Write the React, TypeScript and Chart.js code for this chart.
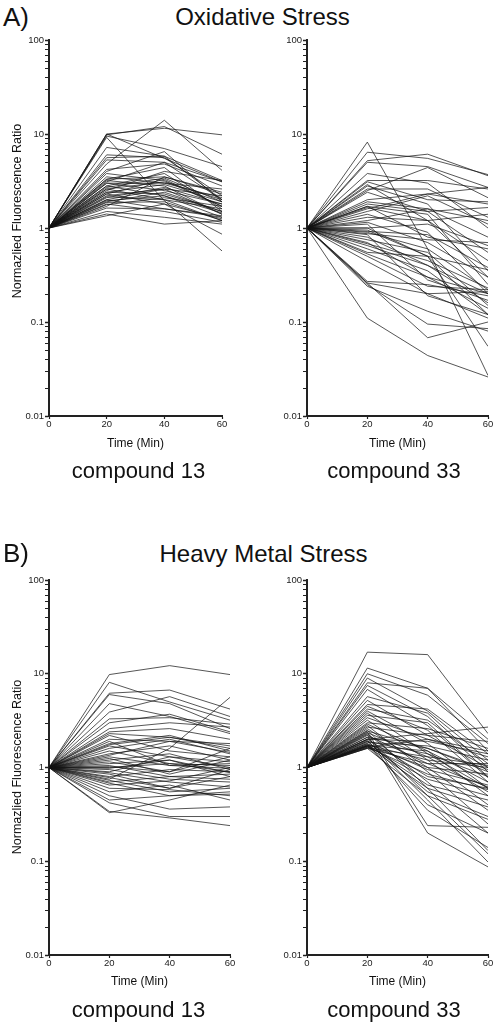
import React, { useEffect, useRef } from "react";
import { Chart, registerables } from "chart.js";
Chart.register(...registerables);

// ---- data ----
const times = [0, 20, 40, 60];
const startRatio = 1; // every trace is normalized to 1 at t = 0
const yTickValues = [0.01, 0.1, 1, 10, 100];
const xTickValues = [0, 20, 40, 60];
const yTitle = "Normazlied Fluorescence Ratio";
const xTitle = "Time (Min)";

// values at 20, 40, 60 min
const oxidativeC13: number[][] = [
  [10, 11.5, 9.8], [9.8, 12, 6.1], [9.5, 7, 4.5], [9.2, 1.95, 0.57], [10, 5.5, 3.1],
  [7.2, 5.8, 3.2], [6.0, 5.6, 2.2], [5.6, 5.8, 2.0], [5.3, 5.0, 3.1], [4.8, 14, 4.1],
  [4.0, 6.5, 1.9], [3.8, 3.2, 1.7], [3.3, 3.5, 2.3], [3.3, 4.4, 1.5], [3.2, 2.8, 1.4],
  [3.0, 3.0, 2.1], [3.0, 2.5, 1.8], [2.8, 3.8, 1.6], [2.8, 2.2, 1.3], [2.6, 3.1, 2.0],
  [2.6, 2.0, 1.2], [2.4, 2.9, 1.9], [2.4, 2.3, 1.5], [2.3, 3.3, 1.7], [2.3, 1.8, 1.25],
  [2.2, 2.6, 1.4], [2.15, 2.0, 1.6], [2.0, 2.6, 2.2], [2.0, 1.6, 1.3], [1.9, 2.4, 1.5],
  [1.87, 1.9, 1.2], [1.8, 1.5, 1.15], [1.77, 2.1, 1.7], [1.7, 3.5, 2.4], [1.63, 1.6, 1.35],
  [1.5, 1.3, 1.1], [1.41, 1.1, 1.2], [1.35, 1.8, 0.86], [2.5, 4.0, 3.2], [3.5, 3.0, 2.6],
  [2.1, 2.7, 1.8], [4.2, 4.8, 2.8], [2.7, 3.4, 1.9], [1.95, 2.2, 1.45], [3.1, 5.0, 2.0],
];

const oxidativeC33: number[][] = [
  [8.2, 0.6, 0.027], [6.4, 5.5, 3.7], [5.2, 6.1, 3.6], [5.0, 4.5, 2.7], [3.8, 3.0, 1.0],
  [3.2, 3.2, 2.6], [3.1, 2.0, 1.9], [2.8, 1.8, 0.35], [2.6, 2.6, 1.3], [2.5, 4.4, 2.1],
  [2.4, 1.5, 0.55], [2.0, 2.3, 1.8], [1.9, 1.6, 0.8], [1.8, 1.5, 1.65], [1.7, 1.4, 0.25],
  [1.65, 1.2, 1.4], [1.6, 2.3, 2.7], [1.4, 0.9, 0.2], [1.3, 1.2, 0.45], [1.2, 1.6, 1.2],
  [1.15, 0.7, 0.3], [1.0, 1.1, 0.65], [1.0, 0.5, 0.12], [0.92, 0.85, 0.38], [0.9, 0.6, 0.22],
  [0.87, 0.75, 0.7], [0.8, 0.4, 0.2], [0.75, 0.55, 0.15], [0.7, 0.3, 0.2], [0.68, 0.45, 0.23],
  [0.6, 0.35, 0.12], [0.55, 0.5, 0.36], [0.53, 0.3, 0.14], [0.5, 0.24, 0.22], [0.44, 0.2, 0.11],
  [0.26, 0.2, 0.21], [0.25, 0.095, 0.085], [0.24, 0.13, 0.08], [0.26, 0.068, 0.1], [0.11, 0.044, 0.026],
  [0.27, 0.25, 0.19], [1.7, 0.8, 0.6], [2.9, 1.2, 0.3], [1.5, 2.2, 1.1], [0.95, 0.5, 0.055],
  [1.1, 0.28, 0.17], [0.85, 0.19, 0.12], [0.65, 0.4, 0.16],
];

const metalC13: number[][] = [
  [9.8, 12.2, 9.8], [8.1, 5.0, 3.2], [6.2, 6.7, 4.2], [6.0, 4.8, 2.6], [4.8, 3.5, 2.3],
  [3.9, 5.7, 3.5], [3.3, 3.4, 2.9], [3.0, 3.7, 2.4], [2.4, 2.6, 2.0], [2.3, 2.1, 1.6],
  [2.2, 1.5, 1.3], [1.8, 2.2, 1.5], [1.75, 2.1, 1.7], [1.7, 1.3, 1.0], [1.6, 2.0, 1.4],
  [1.5, 1.1, 0.9], [1.4, 1.7, 1.2], [1.3, 1.05, 1.1], [1.2, 1.4, 0.95], [1.15, 0.9, 1.3],
  [1.1, 1.2, 0.8], [1.05, 0.8, 0.85], [1.0, 1.1, 1.05], [0.95, 0.75, 0.7], [0.9, 1.3, 1.15],
  [0.85, 0.6, 0.95], [0.8, 0.95, 0.9], [0.75, 1.6, 5.6], [0.73, 0.55, 0.6], [0.7, 0.8, 0.75],
  [0.68, 0.5, 0.55], [0.65, 0.72, 1.0], [0.6, 0.58, 0.5], [0.55, 0.65, 0.45], [0.5, 0.36, 0.38],
  [0.45, 0.5, 0.52], [0.42, 0.3, 0.3], [0.34, 0.29, 0.24], [0.33, 0.45, 0.65], [2.0, 1.9, 1.45],
  [1.9, 1.05, 0.98], [1.25, 0.85, 1.2], [0.98, 1.2, 0.88], [0.88, 0.7, 0.62], [2.6, 3.0, 2.7],
  [1.35, 1.9, 1.8], [0.78, 0.6, 0.8], [1.02, 0.9, 1.6],
];

const metalC33: number[][] = [
  [17, 16, 2.3], [11.5, 7.0, 2.0], [10, 5.9, 1.8], [9, 4.0, 1.2], [8, 7.0, 1.5],
  [7.5, 3.5, 0.9], [2.0, 2.3, 2.7], [5.7, 3.8, 1.0], [4.7, 4.2, 1.4], [4.5, 2.5, 0.7],
  [4.2, 3.2, 1.1], [4.0, 1.8, 0.6], [3.6, 3.0, 0.8], [3.4, 2.0, 1.3], [3.2, 1.2, 0.4],
  [3.0, 2.6, 1.6], [2.9, 1.5, 0.5], [2.8, 0.9, 0.25], [2.7, 2.2, 1.9], [2.6, 1.0, 0.35],
  [2.5, 0.6, 0.13], [2.45, 1.6, 0.9], [2.4, 0.24, 0.23], [2.35, 1.3, 0.55], [2.3, 0.7, 0.2],
  [2.25, 0.2, 0.087], [2.2, 1.1, 1.1], [2.1, 0.5, 0.12], [2.0, 1.9, 1.4], [2.0, 0.8, 0.6],
  [1.95, 0.45, 0.098], [1.9, 1.4, 0.8], [1.9, 0.55, 0.3], [1.85, 1.7, 1.2], [1.8, 0.95, 0.65],
  [1.8, 0.35, 0.14], [1.75, 1.2, 1.0], [1.75, 0.65, 0.45], [1.72, 1.5, 0.7], [1.7, 0.75, 0.5],
  [1.7, 1.0, 0.85], [1.68, 0.6, 0.38], [1.65, 2.0, 1.5], [1.65, 0.85, 0.58], [1.6, 1.1, 0.62],
  [1.6, 0.5, 0.28], [1.62, 1.3, 1.05], [1.7, 0.4, 0.2], [2.1, 1.6, 0.95], [3.8, 1.4, 0.6],
  [5.2, 2.2, 1.0], [6.8, 2.8, 0.78],
];

// ---- styling ----
const FONT = '"Liberation Sans", Arial, Helvetica, sans-serif';
const INK = "#222";

const minorTicks = {
  id: "minorTicks",
  afterDraw(chart: any) {
    const ys = chart.scales.y;
    const ctx = chart.ctx;
    const x0 = chart.chartArea.left - 1;
    ctx.save();
    ctx.strokeStyle = INK;
    ctx.lineWidth = 1;
    for (let i = 0; i < yTickValues.length - 1; i++) {
      for (let k = 2; k <= 9; k++) {
        const py = Math.round(ys.getPixelForValue(yTickValues[i] * k)) + 0.5;
        ctx.beginPath();
        ctx.moveTo(x0 - 3, py);
        ctx.lineTo(x0, py);
        ctx.stroke();
      }
    }
    ctx.restore();
  },
};

type PanelProps = {
  series: number[][];
  left: number;
  top: number;
  width: number;
  height: number;
  plotLeft: number;
  plotRight: number;
  plotTop: number;
  plotBottom: number;
};

function Panel(p: PanelProps) {
  const ref = useRef<HTMLCanvasElement>(null);
  useEffect(() => {
    const yW = p.plotLeft - p.left;
    const xH = p.top + p.height - p.plotBottom;
    const chart = new Chart(ref.current as HTMLCanvasElement, {
      type: "line",
      data: {
        datasets: p.series.map((row) => ({
          data: times.map((t, i) => ({ x: t, y: i === 0 ? startRatio : row[i - 1] })),
          borderColor: "rgba(20,20,20,0.9)",
          borderWidth: 0.8,
          pointRadius: 0,
          fill: false,
          tension: 0,
        })),
      },
      options: {
        responsive: false,
        animation: false,
        devicePixelRatio: 1,
        layout: {
          padding: {
            left: 0,
            top: p.plotTop - p.top,
            right: p.left + p.width - p.plotRight,
            bottom: 0,
          },
        },
        plugins: {
          legend: { display: false },
          tooltip: { enabled: false },
          title: { display: false },
        },
        scales: {
          x: {
            type: "linear",
            min: 0,
            max: 60,
            afterBuildTicks: (s: any) => {
              s.ticks = xTickValues.map((v) => ({ value: v }));
            },
            afterFit: (s: any) => {
              s.height = xH;
            },
            grid: {
              display: true,
              drawOnChartArea: false,
              drawTicks: true,
              tickLength: 3,
              tickWidth: 1.2,
              tickColor: INK,
            },
            border: { display: true, color: INK, width: 2 },
            ticks: {
              color: INK,
              font: { family: FONT, size: 9.5 },
              padding: 0,
              maxRotation: 0,
              autoSkip: false,
            },
          },
          y: {
            type: "logarithmic",
            min: 0.01,
            max: 100,
            afterBuildTicks: (s: any) => {
              s.ticks = yTickValues.map((v) => ({ value: v }));
            },
            afterFit: (s: any) => {
              s.width = yW;
            },
            grid: {
              display: true,
              drawOnChartArea: false,
              drawTicks: true,
              tickLength: 4,
              tickWidth: 1.5,
              tickColor: INK,
            },
            border: { display: true, color: INK, width: 2 },
            ticks: {
              color: INK,
              font: { family: FONT, size: 9.5 },
              padding: 1,
              autoSkip: false,
              callback: (v: any) => String(v),
            },
          },
        },
      } as any,
      plugins: [minorTicks],
    });
    return () => chart.destroy();
  }, []);
  return (
    <canvas
      ref={ref}
      width={p.width}
      height={p.height}
      style={{ position: "absolute", left: p.left, top: p.top, width: p.width, height: p.height }}
    />
  );
}

function Txt(props: { text: string; cx?: number; left?: number; baseline: number; size: number }) {
  const top = props.baseline - 0.8465 * props.size;
  const style: React.CSSProperties = {
    position: "absolute",
    top,
    fontFamily: FONT,
    fontSize: props.size,
    lineHeight: `${props.size}px`,
    color: "#111",
    whiteSpace: "nowrap",
  };
  if (props.cx !== undefined) {
    style.left = props.cx - 200;
    style.width = 400;
    style.textAlign = "center";
  } else {
    style.left = props.left;
  }
  return <div style={style}>{props.text}</div>;
}

function YTitle(props: { cx: number; cy: number }) {
  return (
    <div
      style={{
        position: "absolute",
        left: props.cx - 110,
        top: props.cy - 7,
        width: 220,
        height: 14,
        lineHeight: "14px",
        textAlign: "center",
        fontFamily: FONT,
        fontSize: 12.5,
        color: "#111",
        transform: "rotate(-90deg)",
        whiteSpace: "nowrap",
      }}
    >
      {yTitle}
    </div>
  );
}

export default function App() {
  return (
    <div
      style={{
        position: "absolute",
        left: 0,
        top: 0,
        width: 498,
        height: 1029,
        background: "#fff",
        overflow: "hidden",
      }}
    >
      <Txt text="A)" left={3} baseline={26} size={26} />
      <Txt text="Oxidative Stress" cx={262.5} baseline={25} size={24} />
      <Panel series={oxidativeC13} left={0} top={28} width={240} height={412} plotLeft={49} plotRight={222} plotTop={40} plotBottom={416} />
      <Panel series={oxidativeC33} left={258} top={28} width={240} height={412} plotLeft={307} plotRight={488} plotTop={40} plotBottom={416} />
      <YTitle cx={17} cy={211} />
      <Txt text={xTitle} cx={135.5} baseline={447} size={12} />
      <Txt text={xTitle} cx={397.5} baseline={447} size={12} />
      <Txt text="compound 13" cx={138.5} baseline={479} size={22} />
      <Txt text="compound 33" cx={394} baseline={479} size={22} />

      <Txt text="B)" left={3} baseline={562} size={26} />
      <Txt text="Heavy Metal Stress" cx={263.5} baseline={562} size={24} />
      <Panel series={metalC13} left={0} top={568} width={250} height={412} plotLeft={49} plotRight={230} plotTop={580} plotBottom={955} />
      <Panel series={metalC33} left={258} top={568} width={240} height={412} plotLeft={307} plotRight={488} plotTop={580} plotBottom={955} />
      <YTitle cx={17} cy={767} />
      <Txt text={xTitle} cx={139.5} baseline={985} size={12} />
      <Txt text={xTitle} cx={397.5} baseline={985} size={12} />
      <Txt text="compound 13" cx={138.5} baseline={1018} size={22} />
      <Txt text="compound 33" cx={394} baseline={1018} size={22} />
    </div>
  );
}
